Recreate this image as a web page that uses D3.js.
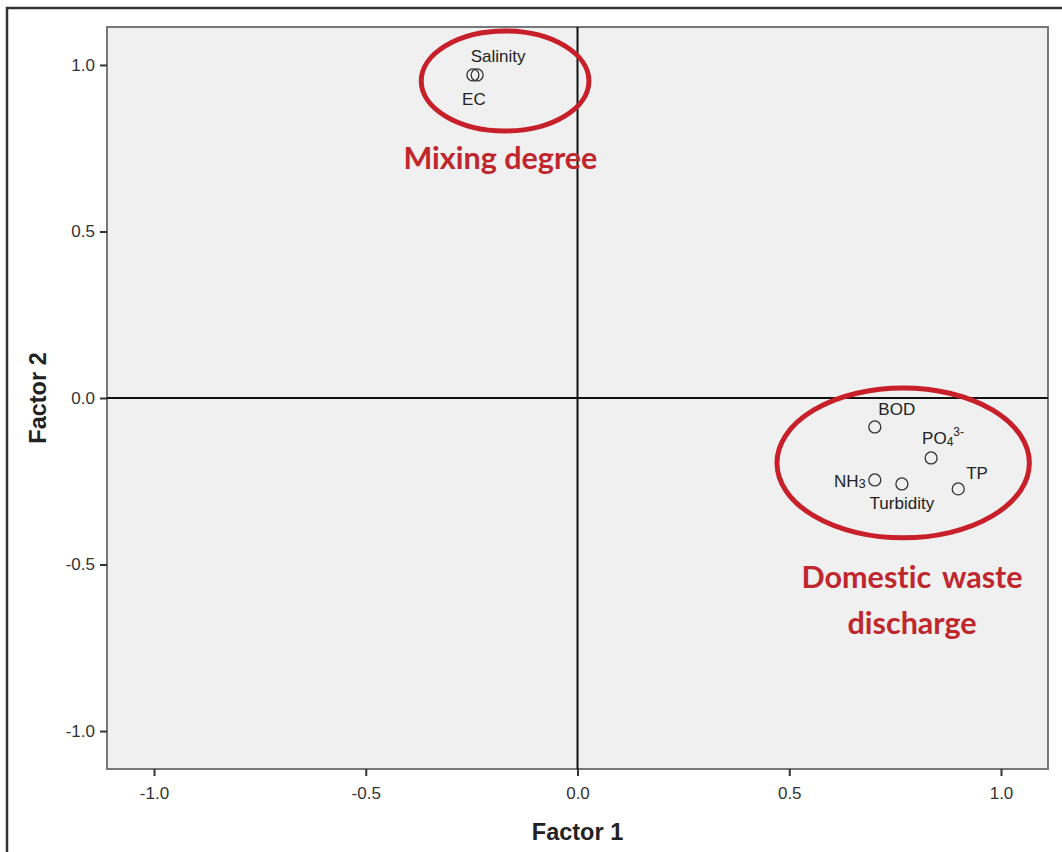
<!DOCTYPE html>
<html>
<head>
<meta charset="utf-8">
<script src="https://cdn.jsdelivr.net/npm/d3@7"></script>
<style>
  body { margin: 0; background: #fff; }
  svg { display: block; font-family: "Liberation Sans", Arial, sans-serif; }
</style>
</head>
<body>
<div id="chart"></div>
<script>
// --------------------------------------
//  Data
// --------------------------------------

const variables = ["Salinity", "EC", "BOD", "PO4", "NH3", "Turbidity", "TP"];
const factor1 = [-0.237, -0.247, 0.702, 0.835, 0.702, 0.766, 0.899];
const factor2 = [0.970, 0.970, -0.087, -0.180, -0.246, -0.258, -0.273];

const tickValues = [-1.0, -0.5, 0.0, 0.5, 1.0];

// annotation groups: center (factor1, factor2) and radii in data units
const groupNames = [["Mixing degree"], ["Domestic waste", "discharge"]];
const groupCx = [-0.171, 0.769];
const groupCy = [0.952, -0.195];
const groupRx = [0.198, 0.298];
const groupRy = [0.150, 0.225];

// --------------------------------------
//  Canvas
// --------------------------------------

const width = 1062, height = 852;
const margin = { top: 27, right: 14, bottom: 83, left: 107 };
const innerwidth = width - margin.left - margin.right;
const innerheight = height - margin.top - margin.bottom;

const svg = d3.select("#chart")
  .append("svg")
    .attr("width", width)
    .attr("height", height);

// outer frame
svg.append("path")
    .attr("d", `M7,${height} V8 H${width}`)
    .attr("fill", "none")
    .attr("stroke", "#333")
    .attr("stroke-width", 2.5);

const inner = svg
  .append("g")
    .attr("transform", `translate(${margin.left}, ${margin.top})`);

// --------------------------------------
//  Scales
// --------------------------------------

const x = d3.scaleLinear()
    .domain([-1.111, 1.111])
    .range([0, innerwidth]);

const y = d3.scaleLinear()
    .domain([-1.114, 1.114])
    .range([innerheight, 0]);

// --------------------------------------
//  Plot background + axes
// --------------------------------------

inner.append("rect")
    .attr("width", innerwidth)
    .attr("height", innerheight)
    .attr("fill", "#f0f0f0")
    .attr("stroke", "#777")
    .attr("stroke-width", 2);

// plain hyphen instead of d3's unicode minus
const fmt = d => d3.format(".1f")(d).replace("\u2212", "-");

const styleAxis = g => {
  g.attr("font-size", null).attr("font-family", null);
  g.select(".domain").remove();
  g.selectAll("line").attr("stroke", "#333").attr("stroke-width", 2);
  g.selectAll("text").attr("font-size", 17).attr("fill", "#333");
};

inner.append("g")
    .attr("transform", `translate(0, ${innerheight})`)
    .call(d3.axisBottom(x)
        .tickValues(tickValues)
        .tickFormat(fmt)
        .tickSize(7)
        .tickPadding(11))
    .call(styleAxis);

inner.append("g")
    .call(d3.axisLeft(y)
        .tickValues(tickValues)
        .tickFormat(fmt)
        .tickSize(7)
        .tickPadding(5))
    .call(styleAxis);

// zero reference lines
inner.append("line")
    .attr("x1", 0).attr("x2", innerwidth)
    .attr("y1", y(0)).attr("y2", y(0))
    .attr("stroke", "#111").attr("stroke-width", 2);

inner.append("line")
    .attr("x1", x(0)).attr("x2", x(0))
    .attr("y1", 0).attr("y2", innerheight)
    .attr("stroke", "#111").attr("stroke-width", 2);

// axis titles
svg.append("text")
    .attr("x", margin.left + x(0))
    .attr("y", 840)
    .attr("text-anchor", "middle")
    .attr("font-size", 23.5)
    .attr("font-weight", "bold")
    .attr("fill", "#222")
    .text("Factor 1");

svg.append("text")
    .attr("transform", `translate(46, ${margin.top + y(0)}) rotate(-90)`)
    .attr("text-anchor", "middle")
    .attr("font-size", 23.5)
    .attr("font-weight", "bold")
    .attr("fill", "#222")
    .text("Factor 2");

// --------------------------------------
//  Points
// --------------------------------------

const points = variables.map((v, i) => ({ name: v, f1: factor1[i], f2: factor2[i] }));

inner.selectAll(".pt")
  .data(points)
  .join("circle")
    .attr("class", "pt")
    .attr("cx", d => x(d.f1))
    .attr("cy", d => y(d.f2))
    .attr("r", 6)
    .attr("fill", "none")
    .attr("stroke", "#333")
    .attr("stroke-width", 1.3);

// label offsets (pixels) relative to each point
const labelPos = {
  Salinity: [21, -13, "middle"],
  EC: [1, 30, "middle"],
  BOD: [22, -12, "middle"],
  PO4: [-9, -14, "start"],
  NH3: [-9, 7, "end"],
  Turbidity: [0, 25, "middle"],
  TP: [8, -10, "start"]
};

const labels = inner.selectAll(".lbl")
  .data(points)
  .join("text")
    .attr("class", "lbl")
    .attr("x", d => x(d.f1) + labelPos[d.name][0])
    .attr("y", d => y(d.f2) + labelPos[d.name][1])
    .attr("text-anchor", d => labelPos[d.name][2])
    .attr("font-size", 17)
    .attr("fill", "#222");

labels.each(function(d) {
  const t = d3.select(this);
  if (d.name === "PO4") {
    t.append("tspan").text("PO");
    t.append("tspan").attr("font-size", 12).attr("dy", 2).text("4");
    t.append("tspan").attr("font-size", 12).attr("dy", -10).text("3-");
  } else if (d.name === "NH3") {
    t.append("tspan").text("NH");
    t.append("tspan").attr("font-size", 13).attr("dy", 1).text("3");
  } else {
    t.text(d.name);
  }
});

// --------------------------------------
//  Annotation ellipses
// --------------------------------------

const groups = groupNames.map((n, i) => ({
  lines: n, cx: groupCx[i], cy: groupCy[i], rx: groupRx[i], ry: groupRy[i]
}));

inner.selectAll(".grp")
  .data(groups)
  .join("ellipse")
    .attr("class", "grp")
    .attr("cx", d => x(d.cx))
    .attr("cy", d => y(d.cy))
    .attr("rx", d => x(d.rx) - x(0))
    .attr("ry", d => y(0) - y(d.ry))
    .attr("fill", "none")
    .attr("stroke", "#c8202a")
    .attr("stroke-width", 5);

const redText = "#c0272d";

inner.append("text")
    .attr("x", x(-0.182))
    .attr("y", y(0.688))
    .attr("text-anchor", "middle")
    .attr("font-family", "Lato, 'Open Sans', sans-serif")
    .attr("font-weight", "bold")
    .attr("font-size", 30.5)
    .style("font-variant-ligatures", "none")
    .attr("fill", redText)
    .text(groups[0].lines[0]);

inner.append("text")
    .attr("x", x(0.79))
    .attr("y", y(-0.57))
    .attr("text-anchor", "middle")
    .attr("font-family", "Lato, 'Open Sans', sans-serif")
    .attr("font-weight", "bold")
    .attr("font-size", 30.5)
    .style("font-variant-ligatures", "none")
    .attr("fill", redText)
    .selectAll("tspan")
    .data(groups[1].lines)
    .join("tspan")
      .attr("x", x(0.79))
      .attr("dy", (d, i) => i === 0 ? 0 : 46)
      .attr("word-spacing", 4)
      .text(d => d);
</script>
</body>
</html>
